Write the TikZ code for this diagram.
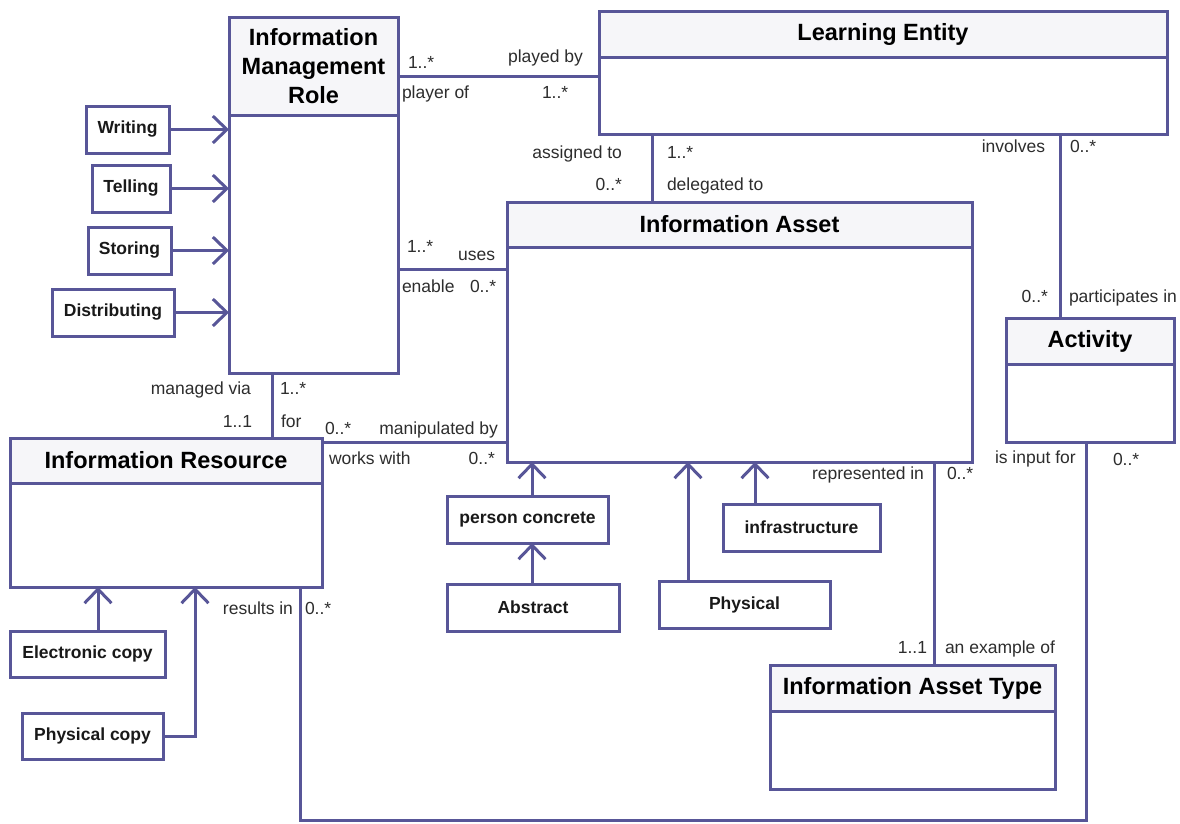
\documentclass[tikz,border=0pt]{standalone}
\usepackage{fontspec}
\setmainfont{Liberation Sans}
\usetikzlibrary{arrows.meta,calc}
\definecolor{uml}{RGB}{88,86,152}
\definecolor{hdrfill}{RGB}{246,246,249}
\definecolor{lbl}{RGB}{45,45,45}
\newcommand\umlclass[7]{%
  \node[cls, minimum width=#4pt, minimum height=#5pt] (#1) at (#2,#3) {};
  \node[hdr, minimum width=#4pt, minimum height=#6pt] (#1H) at (#1.north) {#7};
}
\begin{document}
\begin{tikzpicture}[x=1pt,y=-1pt,
  every node/.style={inner sep=0pt, outer sep=0pt},
  cls/.style={draw=uml, line width=3pt, fill=white, rectangle},
  hdr/.style={draw=uml, line width=3pt, fill=hdrfill, rectangle, anchor=north,
     font=\fontsize{23.5}{29}\selectfont\bfseries, align=center, text=black},
  sbox/.style={draw=uml, line width=3pt, fill=white, rectangle,
     font=\fontsize{17.5}{20}\selectfont\bfseries, text=black!90},
  lab/.style={font=\fontsize{17.5}{20}\selectfont, text=lbl},
  conn/.style={draw=uml, line width=3pt},
  gen/.style={conn, -{Straight Barb[length=14pt,width=27pt]}},
]
\useasboundingbox[fill=white] (0,0) rectangle (1180,823);

% class boxes
\umlclass{imr}{313.5}{195}{169}{356}{98}{Information\\Management\\Role}
\umlclass{le}{883}{72.5}{568}{123}{46}{Learning Entity}
\umlclass{ia}{739.5}{332}{465}{260}{45}{Information Asset}
\umlclass{act}{1090}{380}{168}{124}{46}{Activity}
\umlclass{ir}{166}{512.5}{312}{149}{45}{Information Resource}
\umlclass{iat}{912.5}{727}{285}{124}{46}{Information Asset Type}

% small boxes
\node[sbox, minimum width=83pt, minimum height=47pt] (wr) at (127.5,129.5) {Writing};
\node[sbox, minimum width=78pt, minimum height=47pt] (te) at (131,188.5) {Telling};
\node[sbox, minimum width=83pt, minimum height=47pt] (st) at (129.5,250.5) {Storing};
\node[sbox, minimum width=122pt, minimum height=47pt] (di) at (113,312.5) {Distributing};
\node[sbox, minimum width=155pt, minimum height=46pt] (ec) at (87.5,654) {Electronic copy};
\node[sbox, minimum width=141pt, minimum height=46pt] (pc) at (92.5,736) {Physical copy};
\node[sbox, minimum width=161pt, minimum height=47pt] (pcon) at (527.5,519.5) {person concrete};
\node[sbox, minimum width=172pt, minimum height=47pt] (abs) at (533,607.5) {Abstract};
\node[sbox, minimum width=171pt, minimum height=47pt] (phy) at (744.5,604.5) {Physical};
\node[sbox, minimum width=157pt, minimum height=47pt] (inf) at (801.5,527.5) {infrastructure};

% generalisations
\draw[gen] (wr.east) -- (wr.east -| imr.west);
\draw[gen] (te.east) -- (te.east -| imr.west);
\draw[gen] (st.east) -- (st.east -| imr.west);
\draw[gen] (di.east) -- (di.east -| imr.west);
\draw[gen] ([xshift=10.5]ec.north) -- ([xshift=10.5]ec.north |- ir.south);
\draw[gen] (pc.east) -| ([xshift=29]ir.south);
\draw[gen] ([xshift=4.5]pcon.north) -- ([xshift=4.5]pcon.north |- ia.south);
\draw[gen] ([xshift=-1]abs.north) -- ([xshift=-1]abs.north |- pcon.south);
\draw[gen] ([xshift=-56.5]phy.north) -- ([xshift=-56.5]phy.north |- ia.south);
\draw[gen] ([xshift=-46.5]inf.north) -- ([xshift=-46.5]inf.north |- ia.south);

% associations
\draw[conn] ([yshift=-3.5]le.west) -- ([yshift=-3.5]le.west -| imr.east);
\draw[conn] ([yshift=-67]ia.north west) -- ([yshift=-67]ia.north west -| imr.east);
\draw[conn] ([xshift=53]le.south west) -- ([xshift=53]le.south west |- ia.north);
\draw[conn] ([xshift=-30]act.north) -- ([xshift=-30]act.north |- le.south);
\draw[conn] ([xshift=-41.5]imr.south) -- ([xshift=-41.5]imr.south |- ir.north);
\draw[conn] ([yshift=-4]ir.north east) -- ([yshift=-4]ir.north east -| ia.west);
\draw[conn] ([xshift=21.5]iat.north) -- ([xshift=21.5]iat.north |- ia.south);
\draw[conn] ([xshift=-4]act.south) -- ++(0,378) -| ([xshift=134]ir.south);

% association labels
\node[lab, anchor=base west] (l1) at (408,68) {1..*};
\node[lab, anchor=base east] (l2) at (583,62) {played by};
\node[lab, anchor=base west] (l3) at (402,98) {player of};
\node[lab, anchor=base west] (l4) at (542,98) {1..*};
\node[lab, anchor=base east] (l5) at (622,158) {assigned to};
\node[lab, anchor=base west] (l6) at (667,158) {1..*};
\node[lab, anchor=base east] (l7) at (622,190) {0..*};
\node[lab, anchor=base west] (l8) at (667,190) {delegated to};
\node[lab, anchor=base west] (l9) at (407,252) {1..*};
\node[lab, anchor=base east] (l10) at (495,260) {uses};
\node[lab, anchor=base west] (l11) at (402,292) {enable};
\node[lab, anchor=base west] (l12) at (470,292) {0..*};
\node[lab, anchor=base east] (l13) at (1045,152) {involves};
\node[lab, anchor=base west] (l14) at (1070,152) {0..*};
\node[lab, anchor=base east] (l15) at (1048,302) {0..*};
\node[lab, anchor=base west] (l16) at (1069,302) {participates in};
\node[lab, anchor=base east] (l17) at (251,394) {managed via};
\node[lab, anchor=base west] (l18) at (280,394) {1..*};
\node[lab, anchor=base east] (l19) at (252,427) {1..1};
\node[lab, anchor=base west] (l20) at (281,427) {for};
\node[lab, anchor=base west] (l21) at (325,434) {0..*};
\node[lab, anchor=base east] (l22) at (498,434) {manipulated by};
\node[lab, anchor=base west] (l23) at (329,464) {works with};
\node[lab, anchor=base east] (l24) at (495,464) {0..*};
\node[lab, anchor=base east] (l25) at (293,614) {results in};
\node[lab, anchor=base west] (l26) at (305,614) {0..*};
\node[lab, anchor=base east] (l27) at (924,479) {represented in};
\node[lab, anchor=base west] (l28) at (947,479) {0..*};
\node[lab, anchor=base west] (l29) at (995,463) {is input for};
\node[lab, anchor=base west] (l30) at (1113,465) {0..*};
\node[lab, anchor=base east] (l31) at (927,653) {1..1};
\node[lab, anchor=base west] (l32) at (945,653) {an example of};
\end{tikzpicture}
\end{document}
